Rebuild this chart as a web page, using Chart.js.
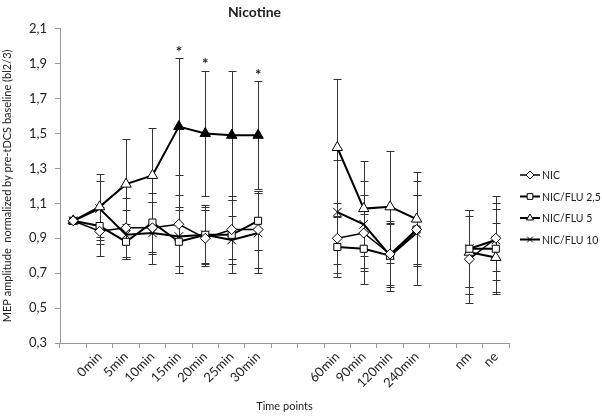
<!DOCTYPE html>
<html>
<head>
<meta charset="utf-8">
<script src="https://cdn.jsdelivr.net/npm/chart.js@4/dist/chart.umd.min.js"></script>
<style>
  html, body { margin: 0; padding: 0; background: #fff; }
  #wrap { width: 602px; height: 417px; }
</style>
</head>
<body>
<div id="wrap"><canvas id="chart" width="602" height="417"></canvas></div>
<script>
// time points ('' = empty slot on the axis)
const categories = ['', '0min', '5min', '10min', '15min', '20min', '25min', '30min', '', '',
  '60min', '90min', '120min', '240min', '', 'nm', 'ne'];

// mean values per group
const nic    = [1.00, 0.94, 0.96, 0.96, 0.98, 0.90, 0.95, 0.95, null, null, 0.90, 0.93, 0.81, 0.95, null, 0.78, 0.90];
const flu25  = [1.00, 0.97, 0.88, 0.99, 0.88, 0.92, 0.92, 1.00, null, null, 0.85, 0.84, 0.80, 0.95, null, 0.84, 0.84];
const flu5   = [1.00, 1.08, 1.21, 1.26, 1.54, 1.50, 1.49, 1.49, null, null, 1.42, 1.07, 1.08, 1.01, null, 0.82, 0.79];
const flu10  = [1.00, 1.07, 0.92, 0.93, 0.91, 0.92, 0.89, 0.93, null, null, 1.05, 0.98, 0.80, 0.93, null, 0.84, 0.89];

// SD (error bars)
const nicErr   = [0, 0.14, 0.17, 0.15, 0.28, 0.16, 0.17, 0.22, null, null, 0.20, 0.22, 0.18, 0.20, null, 0.25, 0.24];
const flu25Err = [0, 0.10, 0.10, 0.17, 0.18, 0.16, 0.22, 0.17, null, null, 0.17, 0.20, 0.20, 0.20, null, 0.22, 0.26];
const flu5Err  = [0, 0.19, 0.26, 0.27, 0.39, 0.36, 0.37, 0.31, null, null, 0.39, 0.27, 0.32, 0.27, null, 0.24, 0.20];
const flu10Err = [0, 0.16, 0.14, 0.18, 0.17, 0.17, 0.14, 0.23, null, null, 0.30, 0.25, 0.18, 0.30, null, 0.22, 0.18];

// significant points of NIC/FLU 5 (filled marker), and where the asterisk goes
const flu5Sig = [0, 0, 0, 0, 1, 1, 1, 1, 0, 0, 0, 0, 0, 0, 0, 0, 0];
const stars   = [0, 0, 0, 0, 1, 1, 0, 1, 0, 0, 0, 0, 0, 0, 0, 0, 0];

const yTicks = { min: 0.3, max: 2.1, step: 0.2 };

const FONT = 'Lato, "Liberation Sans", sans-serif';

// error bars, drawn under the markers
const errorBars = {
  id: 'errorBars',
  beforeDatasetsDraw(chart) {
    const { ctx, scales: { x, y } } = chart;
    ctx.save();
    ctx.strokeStyle = '#333';
    ctx.lineWidth = 1;
    chart.data.datasets.forEach(ds => {
      ds.errors.forEach((e, i) => {
        const v = ds.data[i];
        if (v == null || !e) return;
        const px = Math.round(x.getPixelForValue(i)) + 0.5;
        const top = Math.round(y.getPixelForValue(v + e)) + 0.5;
        const bot = Math.round(y.getPixelForValue(v - e)) + 0.5;
        ctx.beginPath();
        ctx.moveTo(px, top); ctx.lineTo(px, bot);
        ctx.moveTo(px - 4, top); ctx.lineTo(px + 4, top);
        ctx.moveTo(px - 4, bot); ctx.lineTo(px + 4, bot);
        ctx.stroke();
      });
    });
    ctx.restore();
  },
  afterDatasetsDraw(chart) {
    const { ctx, scales: { x, y } } = chart;
    ctx.save();
    ctx.fillStyle = '#222';
    ctx.font = 'bold 15px ' + FONT;
    ctx.textAlign = 'center';
    ctx.textBaseline = 'bottom';
    stars.forEach((s, i) => {
      if (!s) return;
      const px = x.getPixelForValue(i);
      const py = y.getPixelForValue(flu5[i] + flu5Err[i]);
      ctx.fillText('*', px, py + 1);
    });
    ctx.restore();
  }
};

// Excel-like legend: line with marker
const sideLegend = {
  id: 'sideLegend',
  afterDraw(chart) {
    const { ctx } = chart;
    ctx.save();
    chart.data.datasets.forEach((ds, i) => {
      const yy = 175 + i * 21.5;
      ctx.strokeStyle = '#000';
      ctx.lineWidth = ds.borderWidth;
      ctx.beginPath();
      ctx.moveTo(520, yy); ctx.lineTo(540, yy);
      ctx.stroke();
      ctx.fillStyle = '#fff';
      ctx.lineWidth = 1;
      Chart.helpers.drawPoint(ctx, {
        pointStyle: ds.pointStyle, radius: 4, borderWidth: 1, rotation: 0
      }, 530, yy);
      ctx.fillStyle = '#222';
      ctx.font = '10.5px ' + FONT;
      ctx.textAlign = 'left';
      ctx.textBaseline = 'middle';
      ctx.fillText(ds.label, 542, yy + 1);
    });
    ctx.restore();
  }
};

function series(label, data, errors, style, width, radius) {
  return {
    label, data, errors,
    borderColor: '#000',
    borderWidth: width,
    pointStyle: style,
    pointRadius: radius,
    pointHoverRadius: radius,
    pointBorderColor: '#000',
    pointBorderWidth: 1,
    pointBackgroundColor: '#fff',
    spanGaps: false,
    tension: 0
  };
}

const datasets = [
  series('NIC', nic, nicErr, 'rectRot', 1.5, 5),
  series('NIC/FLU 2,5', flu25, flu25Err, 'rect', 2, 5),
  series('NIC/FLU 5', flu5, flu5Err, 'triangle', 2, 6),
  series('NIC/FLU 10', flu10, flu10Err, 'crossRot', 2, 6)
];
datasets[2].pointBackgroundColor = flu5Sig.map(s => s ? '#000' : '#fff');

new Chart(document.getElementById('chart'), {
  type: 'line',
  data: { labels: categories, datasets },
  plugins: [errorBars, sideLegend],
  options: {
    responsive: false,
    animation: false,
    layout: { padding: { left: 0, right: 93, top: 0, bottom: 0 } },
    plugins: {
      legend: { display: false },
      tooltip: { enabled: false },
      title: {
        display: true,
        text: 'Nicotine',
        color: '#222',
        font: { family: FONT, size: 14, weight: 'bold' },
        padding: { top: 4, bottom: 8 }
      }
    },
    scales: {
      x: {
        type: 'category',
        offset: true,
        grid: { display: true, drawOnChartArea: false, drawTicks: true, tickLength: 5, color: '#999', offset: true },
        border: { color: '#999' },
        ticks: {
          autoSkip: false, minRotation: 45, maxRotation: 45, padding: 1,
          color: '#222', font: { family: FONT, size: 13 }
        },
        title: {
          display: true, text: 'Time points', color: '#222',
          font: { family: FONT, size: 11 }, padding: { top: 0, bottom: 4 }
        },
        afterFit(scale) { scale.height = 74; }
      },
      y: {
        min: yTicks.min,
        max: yTicks.max,
        grid: { display: true, drawOnChartArea: false, drawTicks: true, tickLength: 5, color: '#999' },
        border: { color: '#999' },
        ticks: {
          stepSize: yTicks.step, padding: 8, color: '#222',
          font: { family: FONT, size: 13 },
          callback: v => v.toFixed(1).replace('.', ',')
        },
        title: {
          display: true, text: 'MEP amplitude  normalized by pre-tDCS baseline (bl2/3)',
          color: '#222', font: { family: FONT, size: 11 }, padding: { top: 1, bottom: 0 }
        },
        afterFit(scale) { scale.width = 60; }
      }
    }
  }
});
</script>
</body>
</html>
